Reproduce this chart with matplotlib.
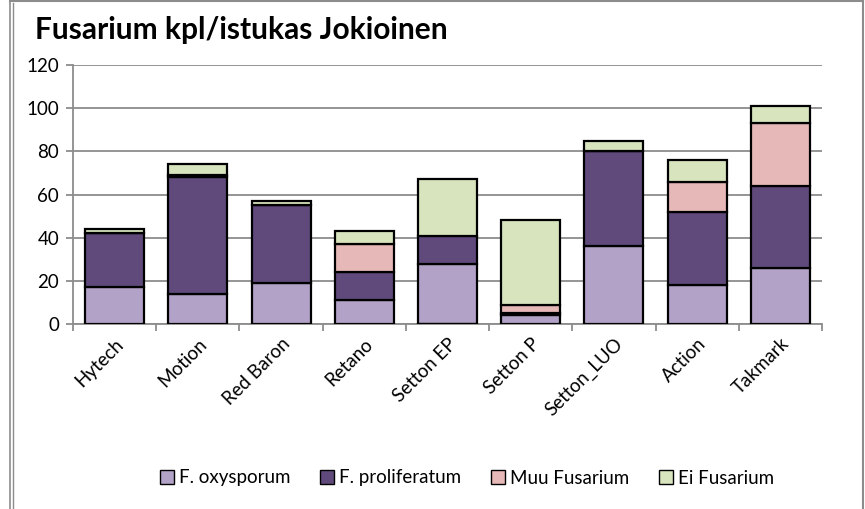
import numpy as np
import matplotlib.pyplot as plt
from matplotlib.lines import Line2D
from matplotlib.patches import Patch

plt.rcParams['font.family'] = ['Lato', 'DejaVu Sans']

# data
varieties = ["Hytech", "Motion", "Red Baron", "Retano", "Setton EP",
             "Setton P", "Setton_LUO", "Action", "Takmark"]
oxysporum = [17, 14, 19, 11, 28, 4, 36, 18, 26]
proliferatum = [25, 54, 36, 13, 13, 1, 44, 34, 38]
muu = [0, 1, 0, 13, -0.4, 4, 0, 14, 29]
ei = [2, 5, 2, 6, 26, 39, 5, 10, 8]

series = [("F. oxysporum", oxysporum, "#B3A2C7"),
          ("F. proliferatum", proliferatum, "#604A7B"),
          ("Muu Fusarium", muu, "#E6B9B8"),
          ("Ei Fusarium", ei, "#D7E4BD")]

fig = plt.figure(figsize=(8.65, 5.09), dpi=100)
ax = fig.add_axes([73 / 865, 1 - 324 / 509, 749 / 865, 259 / 509])

x = np.arange(len(varieties))
pos_bottom = np.zeros(len(varieties))
neg_bottom = np.zeros(len(varieties))
for name, vals, col in series:
    vals = np.array(vals, dtype=float)
    bottom = np.where(vals >= 0, pos_bottom, neg_bottom)
    ax.bar(x, vals, 0.71, bottom=bottom, color=col, edgecolor="black",
           linewidth=1.6, zorder=3)
    pos_bottom = pos_bottom + np.clip(vals, 0, None)
    neg_bottom = neg_bottom + np.clip(vals, None, 0)

ax.set_xlim(-0.5, len(varieties) - 0.5)
ax.set_ylim(0, 120)
ax.set_yticks(range(0, 121, 20))
ax.yaxis.grid(True, color="#8C8C8C", linewidth=1.3, zorder=0)
ax.set_axisbelow(True)

# category ticks sit between the bars
ax.set_xticks(np.arange(-0.5, len(varieties), 1.0))
ax.set_xticklabels([])
ax.set_xticks(x, minor=True)
ax.set_xticklabels(varieties, minor=True, rotation=45, ha="right",
                   va="top", rotation_mode="anchor", fontsize=13.5)
ax.tick_params(axis="x", which="minor", length=0, pad=8)
ax.tick_params(axis="x", which="major", length=5, width=1.3, color="#8C8C8C")
ax.tick_params(axis="y", length=5, width=1.3, color="#8C8C8C", labelsize=13.5, pad=5)

for side in ["top", "right"]:
    ax.spines[side].set_visible(False)
for side in ["left", "bottom"]:
    ax.spines[side].set_color("#8C8C8C")
    ax.spines[side].set_linewidth(1.3)

fig.text(35 / 865, 1 - 30 / 509, "Fusarium kpl/istukas Jokioinen",
         fontsize=21.5, fontweight="bold", va="center", ha="left")

handles = [Patch(facecolor=c, edgecolor="black", linewidth=1.0, label=n)
           for n, v, c in series]
fig.legend(handles=handles, loc="center", bbox_to_anchor=(467 / 865, 1 - 478 / 509),
           ncol=4, frameon=False, fontsize=13.5, handlelength=0.75, handleheight=0.75,
           handletextpad=0.25, columnspacing=1.6)

# chart frame
frame_col = "#8C8C8C"
fig.add_artist(Line2D([10 / 865, 10 / 865], [0, 1 - 1 / 509], color=frame_col, lw=1.2))
fig.add_artist(Line2D([13 / 865, 13 / 865], [0, 1 - 3 / 509], color=frame_col, lw=1.0))
fig.add_artist(Line2D([10 / 865, 863 / 865], [1 - 1 / 509, 1 - 1 / 509], color=frame_col, lw=1.5))
fig.add_artist(Line2D([863 / 865, 863 / 865], [0, 1 - 1 / 509], color=frame_col, lw=1.5))

fig.savefig("out.png", dpi=100)
